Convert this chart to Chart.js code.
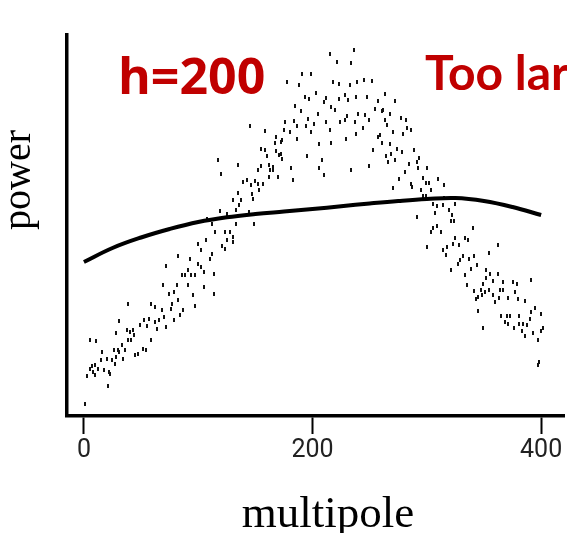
<!DOCTYPE html>
<html lang="en">
<head>
  <meta charset="UTF-8">
  <title>power vs multipole (h=200)</title>
  <script src="https://cdn.jsdelivr.net/npm/chart.js@4.4.0/dist/chart.umd.min.js"></script>
  <style>
    html, body { margin: 0; padding: 0; background: #fff; }
    canvas { display: block; }
  </style>
</head>
<body>
  <canvas id="powerChart" width="567" height="533"></canvas>

  <script>
    // measured band powers (multipole, power in arbitrary units)
    const multipole = [
      1, 5, 11, 21, 3, 5, 7, 8, 10, 10, 12, 15, 16, 18, 20, 22, 23, 25, 26, 27,
      28, 28, 30, 31, 33, 34, 36, 31, 38, 39, 40, 41, 43, 44, 45, 47, 49, 52, 54, 53,
      55, 57, 59, 59, 62, 62, 64, 66, 68, 69, 70, 72, 72, 74, 76, 77, 79, 79, 81, 82,
      82, 84, 86, 87, 39, 117, 120, 135, 155, 158, 160, 167, 172, 168, 171, 173, 155, 162, 163, 165,
      152, 162, 170, 139, 143, 146, 150, 152, 157, 153, 147, 135, 148, 130, 137, 136, 133, 119, 125, 144,
      108, 112, 133, 149, 115, 123, 128, 130, 107, 125, 121, 130, 100, 102, 123, 112, 110, 93, 100, 102,
      105, 114, 91, 88, 94, 97, 91, 105, 95, 114, 97, 145, 158, 215, 236, 221, 234, 191, 199, 178,
      188, 218, 223, 233, 239, 245, 252, 203, 193, 197, 212, 210, 223, 228, 231, 238, 248, 263, 257, 185,
      190, 205, 216, 220, 230, 240, 246, 255, 249, 262, 176, 184, 196, 201, 212, 224, 228, 237, 263, 175,
      180, 186, 194, 199, 215, 238, 244, 168, 173, 186, 206, 216, 229, 257, 172, 195, 208, 253, 264, 165,
      181, 206, 234, 249, 183, 210, 272, 261, 268, 277, 282, 265, 283, 286, 270, 279, 259, 261, 268, 274,
      278, 289, 269, 266, 272, 284, 293, 291, 292, 300, 281, 276, 297, 310, 299, 302, 315, 286, 287, 270,
      304, 295, 297, 299, 305, 309, 314, 315, 325, 291, 307, 319, 322, 321, 324, 305, 309, 304, 312, 340,
      325, 333, 300, 314, 318, 323, 328, 336, 317, 332, 329, 327, 337, 341, 339, 321, 333, 335, 341, 343,
      362, 354, 344, 352, 355, 352, 362, 358, 349, 367, 375, 379, 391, 347, 351, 354, 364, 367, 377, 358,
      363, 345, 348, 371, 380, 386, 360, 345, 391, 395, 400, 365, 370, 373, 381, 390, 368, 371, 376, 381,
      384, 388, 383, 386, 393, 400, 402, 349, 397, 398, 397
    ];
    const power = [
      250, 1520, 1510, 600, 800, 950, 1000, 890, 1020, 820, 950, 1120, 1290, 920, 1150, 890, 840, 1120, 1320, 1050,
      1190, 1670, 1320, 1290, 1420, 1150, 1320, 1900, 1720, 1520, 1690, 1530, 1720, 1620, 1220, 1250, 1820, 1350, 1330, 1920,
      1800, 1950, 1520, 2250, 1890, 2190, 1750, 1920, 2120, 2620, 1990, 1790, 3000, 2440, 2150, 2250, 1930, 2490, 2620, 2320,
      3200, 2020, 2820, 2120, 2240, 5130, 4850, 5020, 5350, 5330, 5200, 5470, 5490, 5310, 5220, 5150, 5000, 5020, 4920, 4930,
      4930, 4790, 4790, 4690, 4730, 4620, 4710, 4650, 4650, 4520, 4440, 4470, 4350, 4320, 4320, 4220, 4130, 4110, 4050, 4090,
      3950, 3850, 3840, 3840, 3690, 3690, 3690, 3590, 3530, 3520, 3400, 3490, 3450, 3320, 3350, 3250, 3150, 3150, 3050, 2990,
      2890, 2850, 2930, 2820, 2820, 2820, 2620, 2590, 2420, 2440, 2200, 5810, 5710, 7250, 7330, 7090, 7070, 6840, 6840, 6690,
      6620, 6690, 6640, 6630, 6690, 6720, 6710, 6470, 6390, 6350, 6370, 6290, 6350, 6420, 6330, 6390, 6390, 6450, 6310, 6200,
      6110, 6050, 6190, 6120, 6000, 6040, 6020, 6150, 5920, 6120, 5890, 5910, 5950, 5850, 5890, 5890, 5920, 5890, 5920, 5720,
      5690, 5800, 5800, 5690, 5730, 5650, 5770, 5590, 5520, 5540, 5450, 5470, 5540, 5590, 5250, 5200, 5130, 5320, 5200, 4990,
      4970, 4970, 4930, 5010, 4720, 4820, 6310, 6110, 6040, 5970, 5920, 5820, 5770, 5730, 5690, 5650, 5620, 5470, 5440, 5350,
      5290, 5330, 5240, 5090, 5120, 5050, 5170, 5090, 4970, 4970, 4890, 4750, 4770, 4750, 4670, 4670, 4620, 4640, 4590, 4570,
      4530, 4520, 4400, 4400, 4250, 4200, 4220, 4370, 4250, 3990, 4070, 4130, 4020, 3910, 3910, 3770, 3800, 3690, 3690, 3770,
      3570, 3570, 3390, 3330, 3390, 3450, 3420, 3530, 3220, 3200, 3120, 3040, 3150, 3200, 2950, 2920, 2820, 2620, 2510, 2350,
      3420, 3270, 3020, 2920, 2840, 2770, 2840, 2710, 2650, 2690, 2690, 2650, 2730, 2520, 2490, 2520, 2520, 2520, 2490, 2420,
      2370, 2390, 2420, 2370, 2340, 2310, 2290, 2110, 2090, 2170, 2040, 2000, 2000, 2000, 2000, 1950, 1890, 1840, 1770, 1840,
      1840, 1820, 1710, 1600, 1670, 1710, 1770, 1770, 1520, 1090, 1020
    ];

    // smoothed fit (h=200)
    const fitMultipole = [0, 25, 50, 75, 100, 125, 150, 175, 200, 225, 250, 275, 300, 325, 350, 375, 400];
    const fitPower = [3080, 3360, 3570, 3740, 3880, 3975, 4040, 4090, 4140, 4195, 4250, 4300, 4340, 4360, 4300, 4180, 4020];

    const xTicks = [0, 200, 400];

    // short vertical dash used as the marker
    const dash = document.createElement('canvas');
    dash.width = 2;
    dash.height = 4;
    const dctx = dash.getContext('2d');
    dctx.fillStyle = '#111';
    dctx.fillRect(0, 0, 2, 4);

    // axis titles and the red annotations
    const textPlugin = {
      id: 'slideText',
      afterDraw(chart) {
        const ctx = chart.ctx;
        ctx.save();
        ctx.textBaseline = 'alphabetic';
        ctx.textAlign = 'left';
        ctx.fillStyle = '#c00000';
        ctx.font = 'bold 50px "Open Sans"';
        ctx.fillText('h=200', 118, 94);
        ctx.font = 'bold 48px Lato';
        ctx.fillText('Too large', 425, 90);

        ctx.fillStyle = '#000';
        ctx.textAlign = 'center';
        ctx.font = '45px "Liberation Serif"';
        ctx.fillText('multipole', 328, 527);
        ctx.translate(30, 180);
        ctx.rotate(-Math.PI / 2);
        ctx.font = '40px "Liberation Serif"';
        ctx.fillText('power', 0, 0);
        ctx.restore();
      }
    };

    const ctx = document.getElementById('powerChart').getContext('2d');
    new Chart(ctx, {
      type: 'scatter',
      data: {
        datasets: [
          {
            type: 'line',
            data: fitMultipole.map((l, i) => ({ x: l, y: fitPower[i] })),
            borderColor: '#000',
            borderWidth: 4,
            pointRadius: 0,
            tension: 0.4,
            fill: false,
            order: 0
          },
          {
            data: multipole.map((l, i) => ({ x: l, y: power[i] })),
            pointStyle: dash,
            pointRadius: 2,
            pointHoverRadius: 2,
            order: 1
          }
        ]
      },
      options: {
        responsive: false,
        animation: false,
        devicePixelRatio: 1,
        events: [],
        layout: { padding: { top: 35, left: 0, right: 0, bottom: 0 } },
        plugins: {
          legend: { display: false },
          tooltip: { enabled: false }
        },
        scales: {
          x: {
            type: 'linear',
            min: -14.8,
            max: 420,
            afterBuildTicks: s => { s.ticks = xTicks.map(v => ({ value: v })); },
            afterFit: s => { s.height = 117; },
            grid: { display: true, drawOnChartArea: false, drawTicks: true, tickLength: 18, tickWidth: 2, tickColor: '#000' },
            border: { display: true, color: '#000', width: 3.5 },
            ticks: {
              color: '#222',
              padding: 2,
              maxRotation: 0,
              autoSkip: false,
              font: { family: 'Roboto, sans-serif', size: 25, lineHeight: 1.2 }
            }
          },
          y: {
            type: 'linear',
            min: 0,
            max: 7620,
            afterFit: s => { s.width = 67; },
            grid: { display: false },
            border: { display: true, color: '#000', width: 3.5 },
            ticks: { display: false }
          }
        }
      },
      plugins: [textPlugin]
    });
  </script>
</body>
</html>
